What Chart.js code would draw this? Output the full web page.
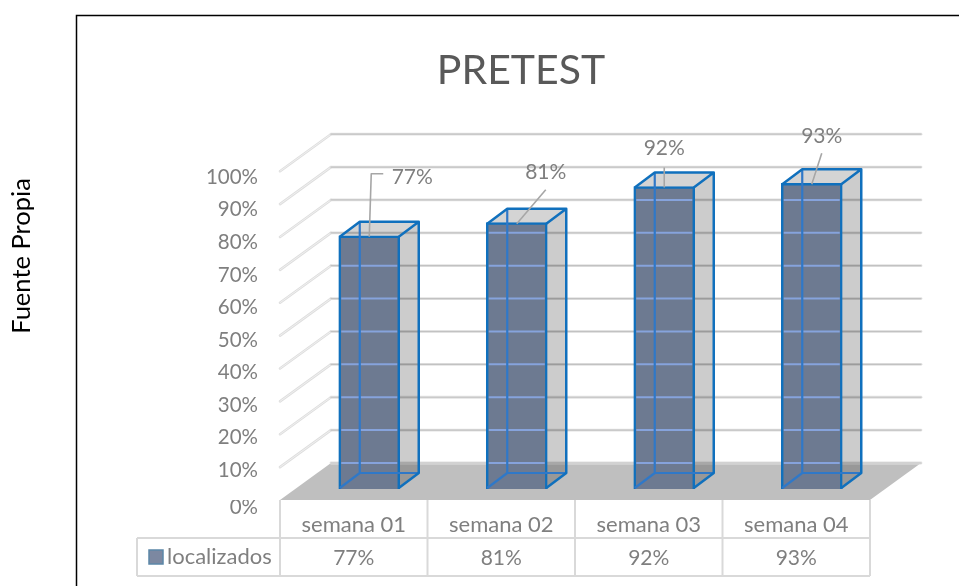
<!DOCTYPE html>
<html><head><meta charset="utf-8">
<style>html,body{margin:0;padding:0;background:#fff;overflow:hidden}#w{width:959px;height:586px}</style>
<script src="https://cdn.jsdelivr.net/npm/chart.js@4"></script></head>
<body><div id="w"><canvas id="c" width="959" height="586"></canvas></div>
<script>
const categories = ['semana 01','semana 02','semana 03','semana 04'];
const seriesName = 'localizados';
const localizados = [77,81,92,93];
const titleText = 'PRETEST';
const sideNote = 'Fuente Propia';
const FONT = 'Lato';
const GREY = '#7f7f7f';
const WALL = {dx:51, dy:-37};      // back wall offset from front plane
const BAR  = {dx:15.5, dy:-11};    // bar front offset from front plane
const BD   = {dx:20, dy:-15};      // bar depth
const calloutPos = [ // label centre, relative to bar-top centre; leader path
  {lx:43, ly:-60, elbow:[[2,-63],[14,-63]]},
  {lx:29, ly:-51, elbow:[[29,-34]]},
  {lx:0,  ly:-39, elbow:[[0,-20]]},
  {lx:10, ly:-48, elbow:[[10,-31]]}
];
const pct = v => v + '%';
// downward nudge of a value-axis label, in pixels
const tickNudge = v => v === 0 ? 7 : 3 + 3 * v / 100;

const depthPlugin = {
  id:'depth',
  beforeDraw(chart){
    const {ctx, scales:{x,y}} = chart;
    const L=x.left,R=x.right,B=y.bottom;
    ctx.save();
    ctx.strokeStyle='#000';ctx.lineWidth=1.5;
    ctx.beginPath();ctx.moveTo(76.5,586);ctx.lineTo(76.5,15.5);ctx.lineTo(959,15.5);ctx.stroke();
    ctx.save();ctx.translate(22,256);ctx.rotate(-Math.PI/2);
    ctx.fillStyle='#000';ctx.font='25.5px '+FONT;ctx.textAlign='center';ctx.textBaseline='middle';
    ctx.fillText(sideNote,0,0);ctx.restore();
    ctx.fillStyle='#bfbfbf';
    ctx.beginPath();ctx.moveTo(L,B);ctx.lineTo(L+WALL.dx,B+WALL.dy);ctx.lineTo(R+WALL.dx,B+WALL.dy);ctx.lineTo(R,B);ctx.closePath();ctx.fill();
    y.ticks.forEach((t)=>{
      const p=y.getPixelForValue(t.value);
      ctx.lineCap='round';
      if(t.value>0){
        ctx.strokeStyle='#dedede';ctx.lineWidth=2.6;
        ctx.beginPath();ctx.moveTo(L,p);ctx.lineTo(L+WALL.dx,p+WALL.dy);ctx.stroke();
        ctx.strokeStyle='#f4f4f4';ctx.lineWidth=.8;ctx.stroke();
      }
      ctx.strokeStyle='#e2e2e2';ctx.lineWidth=2.8;
      ctx.beginPath();ctx.moveTo(L+WALL.dx,p+WALL.dy);ctx.lineTo(R+WALL.dx,p+WALL.dy);ctx.stroke();
      ctx.strokeStyle='#c2c2c2';ctx.lineWidth=1.2;ctx.stroke();
    });
    ctx.lineCap='butt';
    ctx.restore();
  },
  beforeDatasetDraw(chart){
    const {ctx}=chart;
    const bars=chart.getDatasetMeta(0).data;
    ctx.save();
    bars.forEach(b=>{
      const l=b.x-b.width/2+BAR.dx+1,r=b.x+b.width/2+BAR.dx-1,t=b.y+BAR.dy+1,bt=b.base+BAR.dy-1;
      ctx.fillStyle='rgba(0,0,0,.2)';
      ctx.beginPath();ctx.moveTo(r,t);ctx.lineTo(r+BD.dx,t+BD.dy);ctx.lineTo(r+BD.dx,bt+BD.dy);ctx.lineTo(r,bt);ctx.closePath();ctx.fill();
      ctx.fillStyle='rgba(0,0,0,.17)';
      ctx.beginPath();ctx.moveTo(l,t);ctx.lineTo(l+BD.dx,t+BD.dy);ctx.lineTo(r+BD.dx,t+BD.dy);ctx.lineTo(r,t);ctx.closePath();ctx.fill();
    });
    ctx.translate(BAR.dx,BAR.dy);
  },
  afterDatasetDraw(chart){
    const {ctx,scales:{y}}=chart;
    ctx.restore();
    const bars=chart.getDatasetMeta(0).data;
    ctx.save();
    bars.forEach((b,i)=>{
      const l=b.x-b.width/2+BAR.dx+1,r=b.x+b.width/2+BAR.dx-1,t=b.y+BAR.dy+1,bt=b.base+BAR.dy-1;
      ctx.strokeStyle='#86a3dc';ctx.lineWidth=2;
      y.ticks.forEach(tk=>{
        const p=y.getPixelForValue(tk.value)+WALL.dy;
        if(p>t+2&&p<bt-2){ctx.beginPath();ctx.moveTo(l+1.5,p);ctx.lineTo(r-1.5,p);ctx.stroke();}
      });
      ctx.strokeStyle='#2f78c8';ctx.lineWidth=2.2;
      ctx.beginPath();
      ctx.moveTo(l+BD.dx,t+BD.dy);ctx.lineTo(l+BD.dx,bt+BD.dy);ctx.lineTo(r+BD.dx,bt+BD.dy);
      ctx.moveTo(l,bt);ctx.lineTo(l+BD.dx,bt+BD.dy);
      ctx.stroke();
      ctx.strokeStyle='#1070bd';ctx.lineWidth=2.5;ctx.lineJoin='round';
      ctx.beginPath();
      ctx.moveTo(l,t);ctx.lineTo(l+BD.dx,t+BD.dy);ctx.lineTo(r+BD.dx,t+BD.dy);ctx.lineTo(r,t);
      ctx.moveTo(r+BD.dx,t+BD.dy);ctx.lineTo(r+BD.dx,bt+BD.dy);ctx.lineTo(r,bt);
      ctx.stroke();
      const cx=b.x+BAR.dx, cy=t, c=calloutPos[i];
      ctx.strokeStyle='#a6a6a6';ctx.lineWidth=1.6;
      ctx.beginPath();ctx.moveTo(cx,cy);
      c.elbow.forEach(q=>ctx.lineTo(cx+q[0],cy+q[1]));
      ctx.stroke();
      ctx.fillStyle=GREY;ctx.font='21px '+FONT;ctx.textAlign='center';ctx.textBaseline='middle';
      ctx.fillText(pct(localizados[i]),cx+c.lx,cy+c.ly);
    });
    ctx.restore();
  },
  afterDraw(chart){
    const {ctx,scales:{x,y}}=chart;
    const B=y.bottom,rowY=538,end=576,keyL=137;
    ctx.save();
    // the cell block's white margin trims the top of the 0% label
    ctx.fillStyle='#fff';ctx.fillRect(x.left-80,B-20,78,20);
    ctx.strokeStyle='#d9d9d9';ctx.lineWidth=2;
    ctx.beginPath();
    const step=(x.right-x.left)/categories.length;
    for(let i=0;i<=categories.length;i++){const vx=x.left+i*step;ctx.moveTo(vx,B);ctx.lineTo(vx,end);}
    ctx.moveTo(keyL,rowY);ctx.lineTo(x.right,rowY);
    ctx.moveTo(keyL,end);ctx.lineTo(x.right,end);
    ctx.moveTo(keyL,rowY);ctx.lineTo(keyL,end);
    ctx.stroke();
    ctx.fillStyle=GREY;ctx.font='21px '+FONT;ctx.textAlign='center';ctx.textBaseline='middle';
    localizados.forEach((v,i)=>ctx.fillText(pct(v),x.getPixelForValue(i),558));
    ctx.fillStyle='#7c88a1';ctx.strokeStyle='#5b87a8';ctx.lineWidth=1.5;
    ctx.fillRect(149,550,14,14);ctx.strokeRect(149,550,14,14);
    ctx.fillStyle=GREY;ctx.textAlign='left';ctx.font='22px '+FONT;
    ctx.fillText(chart.data.datasets[0].label,167,557);
    ctx.restore();
  }
};

new Chart(document.getElementById('c'),{
  type:'bar',
  data:{labels:categories,datasets:[{label:seriesName,data:localizados,backgroundColor:'#6d7a91',borderColor:'#1070bd',borderWidth:2.5,barThickness:61}]},
  plugins:[depthPlugin],
  options:{
    responsive:false,animation:false,
    layout:{padding:{left:172,right:89,top:0,bottom:0}},
    plugins:{
      legend:{display:false},tooltip:{enabled:false},
      title:{display:true,text:titleText,color:'#595959',font:{family:FONT,size:41,weight:'normal',lineHeight:1.2},padding:{top:46,bottom:76}}
    },
    scales:{
      x:{grid:{display:false,drawTicks:false},border:{display:false},
         ticks:{color:GREY,font:{family:FONT,size:22},padding:12,maxRotation:0},
         afterFit(s){s.height=86;}},
      y:{min:0,max:100,grid:{display:false,drawTicks:false},border:{display:false},
         ticks:{stepSize:10,color:GREY,padding:22,
           font:c=>({family:FONT,size:20.5,lineHeight:(2*tickNudge(c.tick?c.tick.value:100))+'px'}),
           callback:v=>['',pct(v)]},
         afterFit(s){s.width=108;}}
    }
  }
});
</script></body></html>
